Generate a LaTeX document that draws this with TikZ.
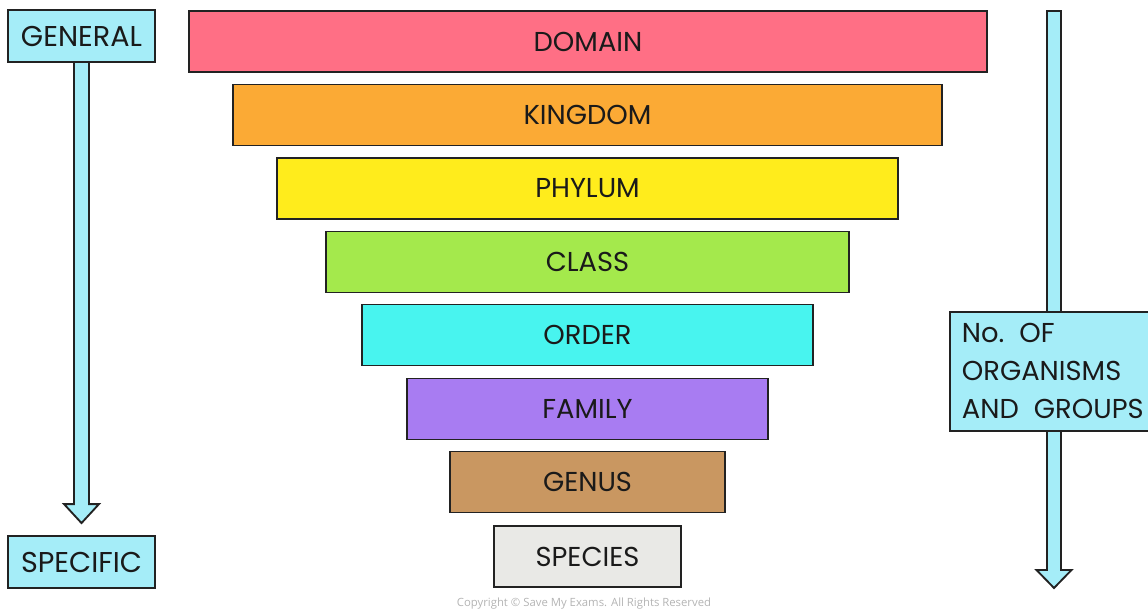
\documentclass[tikz,border=0pt]{standalone}
\usepackage{fontspec}
\setmainfont{Poppins}
\newfontfamily\smallfont{Open Sans}
\usetikzlibrary{calc,backgrounds}
\definecolor{edge}{HTML}{222222}
\definecolor{txt}{HTML}{1A1A1A}
\definecolor{cdomain}{HTML}{FF6F85}
\definecolor{ckingdom}{HTML}{FBAA35}
\definecolor{cphylum}{HTML}{FFEC1C}
\definecolor{cclass}{HTML}{A4E94C}
\definecolor{corder}{HTML}{48F4EF}
\definecolor{cfamily}{HTML}{A87CF2}
\definecolor{cgenus}{HTML}{C99761}
\definecolor{cspecies}{HTML}{E9E9E6}
\definecolor{cblue}{HTML}{A5EDF8}
\definecolor{ccopy}{HTML}{B4B4B4}
\begin{document}
\begin{tikzpicture}[x=0.75pt,y=-0.75pt,
  bar/.style={draw=edge, line width=1.4pt, inner sep=0pt, text=txt,
    font=\fontsize{20.5}{22}\selectfont, minimum height=45.75pt},
  tag/.style={draw=edge, line width=1.4pt, fill=cblue, inner sep=0pt, text=txt,
    font=\fontsize{21.5}{22}\selectfont},
  arrowst/.style={draw=edge, line width=1.4pt, fill=cblue, line join=miter}]
\useasboundingbox (0,0) rectangle (1148,609);
% taxonomy bars
\node[bar, fill=cdomain,  minimum width=598.5pt]  (domain)  at (588,41.5)  {DOMAIN};
\node[bar, fill=ckingdom, minimum width=531.75pt] (kingdom) at (587.5,115) {KINGDOM};
\node[bar, fill=cphylum,  minimum width=465.75pt] (phylum)  at (587.5,188.5) {PHYLUM};
\node[bar, fill=cclass,   minimum width=392.25pt] (class)   at (587.5,262) {CLASS};
\node[bar, fill=corder,   minimum width=338.25pt] (order)   at (587.5,335) {ORDER};
\node[bar, fill=cfamily,  minimum width=270.75pt] (family)  at (587.5,409) {FAMILY};
\node[bar, fill=cgenus,   minimum width=206.25pt] (genus)   at (587.5,482) {GENUS};
\node[bar, fill=cspecies, minimum width=140.25pt] (species) at (587.5,556.5) {SPECIES};
% left labels
\node[tag, minimum width=110.25pt, minimum height=39pt] (general)  at (81.5,36)  {GENERAL};
\node[tag, minimum width=110.25pt, minimum height=39pt] (specific) at (81.5,562) {SPECIFIC};
% right box
\node[tag, anchor=north west, minimum width=152pt, minimum height=89.25pt,
      text width=136pt, align=left, inner xsep=9pt,
      font=\fontsize{20.5}{28.5}\selectfont] (orgbox) at (949,311)
  {\hbox{No.\hspace{0.55em}OF}\\ORGANISMS\\\hbox{AND\hspace{0.55em}GROUPS}};
\coordinate (rtop) at (1054,11);
\coordinate (rtip) at (1054,588);
\coordinate (ltip) at ($(specific.north)+(0,-12)$);
\begin{scope}[on background layer]
\draw[arrowst] ($(general.south)+(-7.5,0)$) -- ($(ltip)+(-7.5,-19)$) -- ($(ltip)+(-17.5,-19)$)
  -- (ltip) -- ($(ltip)+(17.5,-19)$) -- ($(ltip)+(7.5,-19)$) -- ($(general.south)+(7.5,0)$);
\draw[arrowst] ($(rtop)+(-7,0)$) -- ($(rtip)+(-7,-18)$) -- ($(rtip)+(-17.5,-18)$)
  -- (rtip) -- ($(rtip)+(17.5,-18)$) -- ($(rtip)+(7,-18)$) -- ($(rtop)+(7,0)$) -- cycle;
\end{scope}
\node[text=ccopy, font=\smallfont\fontsize{8.5}{9}\selectfont, inner sep=0pt] (copy) at (584,603.5)
  {Copyright © Save My Exams. All Rights Reserved};
\end{tikzpicture}
\end{document}
